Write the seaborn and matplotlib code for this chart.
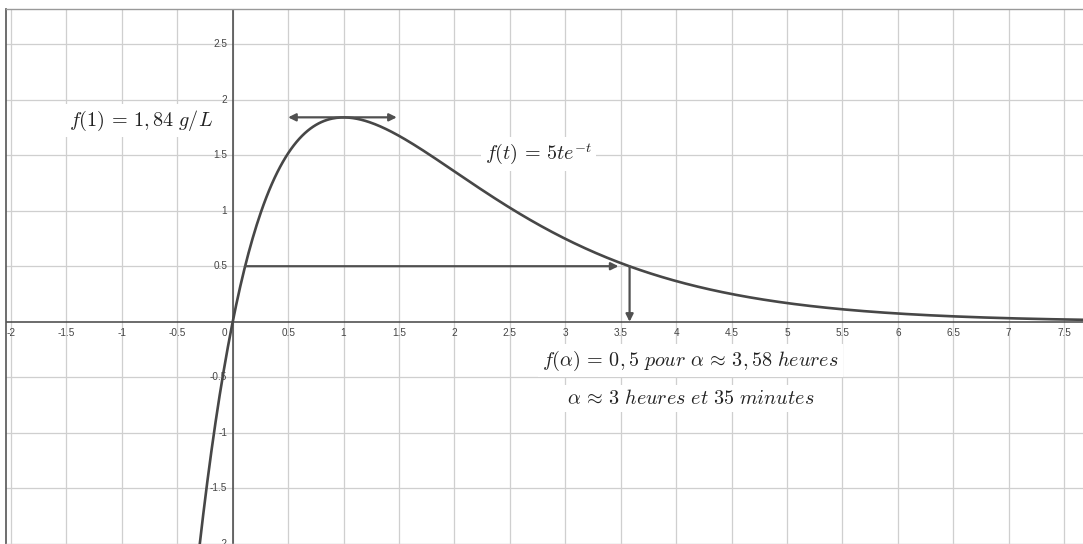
import numpy as np
import pandas as pd
import matplotlib
matplotlib.use("Agg")
import matplotlib.pyplot as plt
import seaborn as sns

# Function f(t) = A * t * exp(-t)
amplitude = 5.0
t_start, t_end, n_points = -2.1, 7.8, 800

# Key values
t_peak = 1.0
f_peak = 1.84
peak_arrow_x = [0.5, 1.48]
level = 0.5
level_arrow_x = [0.11, 3.48]
alpha = 3.58

x_ticks = [-2, -1.5, -1, -0.5, 0, 0.5, 1, 1.5, 2, 2.5, 3, 3.5, 4, 4.5, 5, 5.5, 6, 6.5, 7, 7.5]
y_ticks = [-2, -1.5, -1, -0.5, 0.5, 1, 1.5, 2, 2.5]

label_peak = r"$f(1)\,=\,1,84\ g/L$"
label_func = r"$f(t)\,=\,5te^{-t}$"
label_alpha1 = r"$f(\alpha)\,=\,0,5\ pour\ \alpha\,\approx\,3,58\ heures$"
label_alpha2 = r"$\alpha\,\approx\,3\ heures\ et\ 35\ minutes$"

t = np.linspace(t_start, t_end, n_points)
df = pd.DataFrame({"t": t, "f": amplitude * t * np.exp(-t)})

sns.set_theme(style="white")
plt.rcParams["font.family"] = ["Liberation Sans", "DejaVu Sans"]
plt.rcParams["mathtext.fontset"] = "cm"

fig = plt.figure(figsize=(10.83, 5.44), dpi=100)
ax = fig.add_axes([6 / 1083, 0, 1077 / 1083, 535 / 544])

xmin, xmax = -2.045, 7.67
ymin, ymax = -2.0, 2.815
ax.set_xlim(xmin, xmax)
ax.set_ylim(ymin, ymax)

# grid
for xv in x_ticks:
    ax.axvline(xv, color="#cfcfcf", lw=0.9, zorder=0)
for yv in y_ticks:
    ax.axhline(yv, color="#cfcfcf", lw=0.9, zorder=0)

# axes through the origin
ax.axhline(0, color="#444444", lw=1.1, zorder=1)
ax.axvline(0, color="#444444", lw=1.1, zorder=1)

ax.set_xticks([])
ax.set_yticks([])

# tick labels
tick_kw = dict(fontsize=7.2, color="#444444", zorder=2)
for xv in x_ticks:
    if xv == 0:
        ax.annotate("0", (0, 0), xytext=(-6, -8), textcoords="offset points",
                    ha="center", va="center", **tick_kw)
    else:
        ax.annotate(f"{xv:g}", (xv, 0), xytext=(0, -8), textcoords="offset points",
                    ha="center", va="center", **tick_kw)
for yv in y_ticks:
    ax.annotate(f"{yv:g}", (0, yv), xytext=(-4, 0), textcoords="offset points",
                ha="right", va="center", **tick_kw)

# the curve
sns.lineplot(data=df, x="t", y="f", ax=ax, color="#474747", lw=1.9,
             sort=False, zorder=3, legend=False)
ax.set_xlim(xmin, xmax)
ax.set_ylim(ymin, ymax)
ax.set_xlabel("")
ax.set_ylabel("")

arrow_color = "#505050"
arrow_kw = dict(color=arrow_color, lw=1.6, mutation_scale=11, shrinkA=0, shrinkB=0)
# horizontal tangent at the peak
ax.annotate("", xy=(peak_arrow_x[1], f_peak), xytext=(peak_arrow_x[0], f_peak),
            arrowprops=dict(arrowstyle="<|-|>", **arrow_kw), zorder=4)
# level line f = 0.5
ax.annotate("", xy=(level_arrow_x[1], level), xytext=(level_arrow_x[0], level),
            arrowprops=dict(arrowstyle="-|>", **arrow_kw), zorder=4)
# drop to alpha
ax.annotate("", xy=(alpha, 0), xytext=(alpha, level),
            arrowprops=dict(arrowstyle="-|>", **arrow_kw), zorder=4)

box = dict(facecolor="white", edgecolor="none", pad=3)
text_kw = dict(fontsize=14.5, ha="center", va="center", bbox=box, zorder=5,
               color="#222222")
ax.text(-0.83, 1.81, label_peak, **text_kw)
ax.text(2.76, 1.51, label_func, **text_kw)
ax.text(4.13, -0.35, label_alpha1, **text_kw)
ax.text(4.13, -0.69, label_alpha2, **text_kw)

# frame
ax.spines["right"].set_visible(False)
ax.spines["left"].set_color("#555555")
ax.spines["left"].set_linewidth(1.2)
ax.spines["top"].set_color("#999999")
ax.spines["top"].set_linewidth(1.0)
ax.spines["bottom"].set_color("#e0e0e0")
ax.spines["bottom"].set_linewidth(1.0)

fig.savefig("out.png", dpi=100, facecolor="white")
